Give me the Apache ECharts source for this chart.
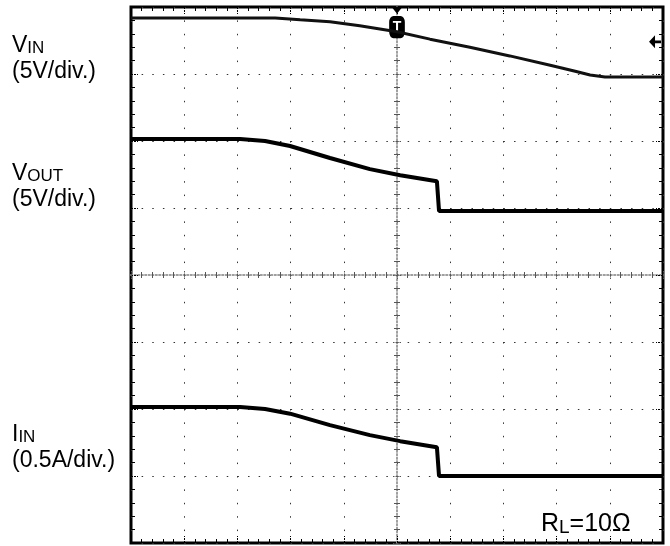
<!DOCTYPE html>
<html>
<head>
<meta charset="utf-8">
<script src="https://cdn.jsdelivr.net/npm/echarts@6/dist/echarts.min.js"></script>
<style>
html,body{margin:0;padding:0;background:#fff;}
#chart{width:670px;height:546px;}
</style>
</head>
<body>
<div id="chart"></div>
<script>
// Values in scope divisions: x from -5..5 (trigger at 0), y from -4..4
const vinX  = [-5, -2.29, -1.82, -1.26, -0.70, 0, 0.62, 1.37, 2.12, 2.88, 3.35, 3.63, 3.91, 5];
const vinY  = [3.836, 3.836, 3.81, 3.78, 3.72, 3.63, 3.52, 3.40, 3.27, 3.13, 3.04, 2.985, 2.955, 2.955];
const voutX = [-5, -2.95, -2.48, -2.01, -1.26, -0.51, 0.06, 0.75, 0.79, 5];
const voutY = [2.03, 2.03, 2.0, 1.925, 1.746, 1.58, 1.49, 1.40, 0.955, 0.955];
const iinX  = [-5, -2.95, -2.48, -2.01, -1.26, -0.51, 0.06, 0.75, 0.79, 5];
const iinY  = [-1.97, -1.97, -2.0, -2.07, -2.24, -2.39, -2.48, -2.57, -3.0, -3.0];
const xTicks = {min: -5, max: 5, interval: 1};
const yTicks = {min: -4, max: 4, interval: 1};
const labelVin = ['V', 'IN', '(5V/div.)'];
const labelVout = ['V', 'OUT', '(5V/div.)'];
const labelIin = ['I', 'IN', '(0.5A/div.)'];
const labelRl = ['R', 'L', '=10Ω'];

const pairs = (xs, ys) => xs.map((x, i) => [x, ys[i]]);
const FONT = "'Liberation Sans', Arial, sans-serif";

const chart = echarts.init(document.getElementById('chart'), null, {renderer: 'canvas'});

function frameX(pos, withSplit) {
  return {
    type: 'value', min: xTicks.min, max: xTicks.max, interval: xTicks.interval,
    position: pos,
    axisLine: {show: false, onZero: false},
    axisTick: {show: true, inside: true, length: 7, lineStyle: {color: '#000', width: 1, type: [2, 1]}},
    minorTick: {show: true, splitNumber: 5, length: 4, lineStyle: {color: '#000', width: 1}},
    axisLabel: {show: false},
    splitLine: {show: withSplit, lineStyle: {color: '#333', width: 1, type: [1.5, 11.9]}},
    minorSplitLine: {show: false}
  };
}
function frameY(pos, withSplit) {
  return {
    type: 'value', min: yTicks.min, max: yTicks.max, interval: yTicks.interval,
    position: pos,
    axisLine: {show: false, onZero: false},
    axisTick: {show: true, inside: true, length: 7, lineStyle: {color: '#000', width: 1, type: [2, 1]}},
    minorTick: {show: true, splitNumber: 5, length: 4, lineStyle: {color: '#000', width: 1}},
    axisLabel: {show: false},
    splitLine: {show: withSplit, lineStyle: {color: '#333', width: 1, type: [1.5, 9.14]}},
    minorSplitLine: {show: false}
  };
}
function centerX(pos) {
  return {
    type: 'value', min: xTicks.min, max: xTicks.max, interval: xTicks.interval,
    position: pos,
    axisLine: {show: true, onZero: true, onZeroAxisIndex: 0, lineStyle: {color: '#999', width: 1.5, type: [1.5, 2]}},
    axisTick: {show: true, inside: true, length: 5, lineStyle: {color: '#555', width: 1, type: [1.5, 1]}},
    minorTick: {show: true, splitNumber: 5, length: 3, lineStyle: {color: '#555', width: 1}},
    axisLabel: {show: false},
    splitLine: {show: false}
  };
}
function centerY(pos) {
  return {
    type: 'value', min: yTicks.min, max: yTicks.max, interval: yTicks.interval,
    position: pos,
    axisLine: {show: true, onZero: true, onZeroAxisIndex: 0, lineStyle: {color: '#999', width: 1.5, type: [1.5, 2]}},
    axisTick: {show: true, inside: true, length: 5, lineStyle: {color: '#555', width: 1, type: [1.5, 1]}},
    minorTick: {show: true, splitNumber: 5, length: 3, lineStyle: {color: '#555', width: 1}},
    axisLabel: {show: false},
    splitLine: {show: false}
  };
}

function twoPartLabel(x, y, parts) {
  return [
    {type: 'text', x: x, y: y, style: {
      text: '{a|' + parts[0] + '}{b|' + parts[1] + '}',
      rich: {
        a: {fontSize: 23, fontFamily: FONT, fill: '#000', verticalAlign: 'bottom', lineHeight: 23},
        b: {fontSize: 17, fontFamily: FONT, fill: '#000', verticalAlign: 'bottom', lineHeight: 23}
      },
      verticalAlign: 'bottom'
    }},
    {type: 'text', x: x, y: y + 26, style: {
      text: parts[2], font: '23px ' + FONT, fill: '#000', verticalAlign: 'bottom'
    }}
  ];
}

const option = {
  animation: false,
  backgroundColor: '#fff',
  grid: {left: 131, top: 7, width: 532, height: 536, show: true, borderColor: '#000', borderWidth: 3, backgroundColor: 'transparent', containLabel: false},
  xAxis: [frameX('bottom', true), frameX('top', false), centerX('bottom'), centerX('top')],
  yAxis: [frameY('left', true), frameY('right', false), centerY('left'), centerY('right')],
  series: [
    {type: 'line', name: 'VIN', xAxisIndex: 0, yAxisIndex: 0, data: pairs(vinX, vinY), showSymbol: false, symbol: 'none',
      lineStyle: {color: '#111', width: 3}, z: 5,
      markPoint: {
        data: [
          {coord: [0, 3.95], symbol: 'triangle', symbolRotate: 180, symbolSize: [11, 7], itemStyle: {color: '#000'}, label: {show: false}},
          {coord: [0, 3.70], symbol: 'roundRect', symbolSize: [14, 20], itemStyle: {color: '#000', borderColor: '#000'},
            label: {show: true, formatter: 'T', color: '#fff', fontSize: 14, fontWeight: 'bold', fontFamily: FONT, position: 'inside'}},
          {coord: [4.85, 3.48], symbol: 'path://M0,5 L6,0 L6,4 L12,4 L12,6 L6,6 L6,10 Z', symbolSize: [12, 13], itemStyle: {color: '#000'}, label: {show: false}}
        ]
      }
    },
    {type: 'line', name: 'VOUT', xAxisIndex: 0, yAxisIndex: 0, data: pairs(voutX, voutY), showSymbol: false, symbol: 'none',
      lineStyle: {color: '#000', width: 4}, z: 5},
    {type: 'line', name: 'IIN', xAxisIndex: 0, yAxisIndex: 0, data: pairs(iinX, iinY), showSymbol: false, symbol: 'none',
      lineStyle: {color: '#000', width: 4}, z: 5}
  ],
  graphic: [].concat(
    twoPartLabel(12, 57, labelVin),
    twoPartLabel(12, 185, labelVout),
    twoPartLabel(12, 446, labelIin),
    [{type: 'text', x: 541, y: 537, style: {
      text: '{a|' + labelRl[0] + '}{b|' + labelRl[1] + '}{a|' + labelRl[2] + '}',
      rich: {
        a: {fontSize: 25, fontFamily: FONT, fill: '#000', verticalAlign: 'bottom', lineHeight: 25},
        b: {fontSize: 19, fontFamily: FONT, fill: '#000', verticalAlign: 'bottom', lineHeight: 25}
      },
      verticalAlign: 'bottom'
    }}]
  )
};
chart.setOption(option);
</script>
</body>
</html>
